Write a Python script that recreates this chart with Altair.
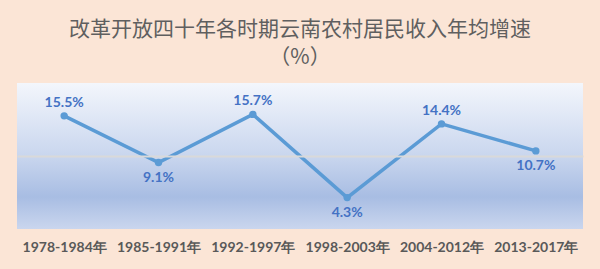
import altair as alt
import pandas as pd

periods = ["1978-1984年", "1985-1991年", "1992-1997年", "1998-2003年", "2004-2012年", "2013-2017年"]
growth = [15.5, 9.1, 15.7, 4.3, 14.4, 10.7]

df = pd.DataFrame({"period": periods, "growth": growth})
df["label"] = [f"{v:.1f}%" for v in growth]

W, H = 566, 146

x_enc = alt.X("period:N", sort=periods, scale=alt.Scale(type="point", padding=0.5),
              axis=alt.Axis(title=None, labelAngle=0, ticks=False, domain=False,
                            labelFont="Lato", labelFontWeight="bold", labelFontSize=14,
                            labelColor="#595959", labelPadding=11, grid=False))
y_scale = alt.Scale(domain=[0, 20], nice=False)

grad = {
    "gradient": "linear", "x1": 0, "y1": 0, "x2": 0, "y2": 1,
    "stops": [
        {"offset": 0, "color": "#F3F6FC"},
        {"offset": 0.5, "color": "#C9D6EE"},
        {"offset": 0.78, "color": "#A8BDE3"},
        {"offset": 1, "color": "#CAD6EE"},
    ],
}

bg = alt.Chart(pd.DataFrame({"a": [0]})).mark_rect(color=grad).encode(
    x=alt.value(0), x2=alt.value(W), y=alt.value(0), y2=alt.value(H)
)

y_axis = alt.Axis(values=[10], grid=True, gridColor="#D9D9D9", gridWidth=2, gridOpacity=1,
                  labels=False, ticks=False, domain=False, title=None, zindex=1)

base = alt.Chart(df).encode(x=x_enc, y=alt.Y("growth:Q", scale=y_scale, axis=y_axis))

line = base.mark_line(color="#5B9BD5", strokeWidth=3.5)
pts = base.mark_circle(color="#5B9BD5", size=55, opacity=1)

above = base.transform_filter("datum.growth > 12").mark_text(
    dy=-13, font="Lato", fontWeight="bold", fontSize=14, color="#4472C4"
).encode(text="label:N")
below = base.transform_filter("datum.growth <= 12").mark_text(
    dy=15, font="Lato", fontWeight="bold", fontSize=14, color="#4472C4"
).encode(text="label:N")

chart = alt.layer(bg, line, pts, above, below).properties(
    width=W, height=H,
    title=alt.TitleParams(
        text=["改革开放四十年各时期云南农村居民收入年均增速", "（%）"],
        font="Noto Sans CJK SC", fontSize=21, fontWeight="normal", color="#5F5F5F",
        anchor="middle", lineHeight=28, offset=15,
    ),
    padding={"left": 17, "top": 83, "right": 17, "bottom": 40},
    autosize=alt.AutoSizeParams(type="none"),
    background="#FBE5D6",
).configure_view(stroke=None)

chart.save("out.html", embed_options={"renderer": "svg", "actions": False})
